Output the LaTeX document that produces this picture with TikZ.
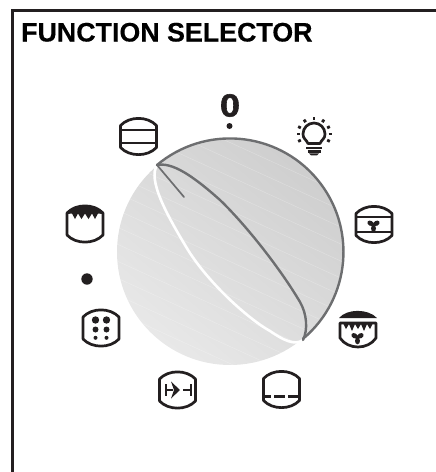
\documentclass[tikz,border=0pt]{standalone}
\usepackage{fontspec}
\setmainfont{Liberation Sans}
\newfontfamily\heavyfont[FakeBold=1.6]{Liberation Sans Bold}
\newfontfamily\titlefont[FakeBold=0.25]{Liberation Sans Bold}
\definecolor{ink}{HTML}{231F20}
\definecolor{rimgray}{HTML}{6D6E70}
\tikzset{
  x=1pt,y=-1pt,
  ink line/.style={draw=ink,line width=2.7pt,line join=round},
  rim/.style={draw=rimgray,line width=2.4pt,line cap=round},
  streak/.style={draw=white,line width=.5pt,opacity=.25},
  oven/.pic={\draw[ink line] (-18,-11) .. controls (-9,-20.5) and (9,-20.5) .. (18,-11) -- (18,11) .. controls (9,20.5) and (-9,20.5) .. (-18,11) -- cycle;},
  fan/.pic={\foreach \a in {-90,30,150}{\fill[ink,rotate=\a] (3.4,0) ellipse[x radius=3.4,y radius=2.5];}\fill[ink] (0,0) circle[radius=1.8];},
}
\begin{document}
\begin{tikzpicture}
\useasboundingbox (0,0) rectangle (436,472);
% frame
\draw[ink,line width=3pt] (12,472) -- (12,10) -- (436,10);
\node[anchor=base west,inner sep=0pt,font=\titlefont\fontsize{26.8}{30}\selectfont,text=black] (title) at (21,41.5) {FUNCTION SELECTOR};
% dial
\shade[top color=black!19,bottom color=black!9,shading angle=-40] (230,252) circle[radius=113];
\begin{scope}
\clip (230,252) circle[radius=113];
\foreach \k in {-12,...,16}{\draw[streak] (60,{150+\k*17}) -- (400,{150+\k*17+155});}
\end{scope}
\draw[white,line width=2.6pt,line cap=round] (157,165) .. controls (148,180) and (165,212) .. (188,250) .. controls (210,285) and (250,320) .. (270,331) .. controls (283,340) and (295,346) .. (303,340);
\draw[rim] (157,165) arc[start angle=-130,end angle=50,radius=113.5];
\draw[rim] (157,165) .. controls (172,162) and (192,175) .. (220,200) .. controls (245,224) and (280,268) .. (300,302) .. controls (307,314) and (308,330) .. (303,340);
\draw[rim,line width=1.7pt] (157,165) -- (184,197);
% icon: two lines
\pic at (138.5,136.5) {oven};
\draw[ink line] (120.5,130) -- (156.5,130) (120.5,143) -- (156.5,143);
% zero
\node[inner sep=0pt,xscale=1.12,font=\heavyfont\fontsize{32}{34}\selectfont,text=ink] (zero) at (230,105.5) {0};
\fill[ink] (229.5,126) circle[radius=3];
% bulb
\draw[ink line] (308,143.5) .. controls (306,139) and (303,139) .. (303,134) arc[start angle=180,end angle=360,radius=11] .. controls (325,139) and (322,139) .. (320,143.5) -- cycle;
\draw[ink,line width=2.2pt] (306,148) -- (322,148) (307.5,151.5) -- (320.5,151.5);
\fill[ink] (309,153.3) -- (319,153.3) -- (317,155.3) -- (311,155.3) -- cycle;
\foreach \a in {-90,-55,-25,0,25,180,155,205,235}{\draw[ink,line width=2.8pt] (314,134) ++(\a:14.5) -- ++(\a:3);}
% fan oven
\pic at (374,224.5) {oven};
\draw[ink line] (356,217) -- (392,217) (356,232) -- (392,232);
\pic at (373.5,225) {fan};
% top + fan
\fill[ink] (339,318) .. controls (347,308.5) and (368,308.5) .. (377,318) -- cycle;
\draw[ink line] (340,323) -- (376,323) -- (376,338) .. controls (368,350) and (348,350) .. (340,338) -- cycle;
\fill[ink] (343,323) -- (346,329) -- (349,324) -- (352,331) -- (355,324) -- (358,329) -- (361,324) -- (364,331) -- (367,324) -- (370,329) -- (373,323) -- cycle;
\pic at (357.5,337.5) {fan};
% dashed
\pic at (281.5,389.5) {oven};
\draw[ink,line width=3pt] (264,396) -- (271,396) (274,396) -- (285,396) (288,396) -- (299,396);
% grill
\pic at (177.5,390) {oven};
\draw[ink,line width=2.4pt] (166,384) -- (166,396) (166,390) -- (173,390) (183,390) -- (191,390) (191,384) -- (191,396);
\fill[ink] (171,381.5) -- (180,390) -- (171,398.5) -- (174,390) -- cycle;
% dots
\pic at (101,328) {oven};
\foreach \x in {95.5,106.5}{
  \fill[ink] (\x,320) circle[radius=3.7];
  \fill[ink] (\x,329.5) circle[radius=3];
  \fill[ink] (\x,337.8) circle[radius=2];
}
% single dot
\fill[ink] (87,279) circle[radius=5.7];
% top heat
\pic at (85,224) {oven};
\fill[ink] (67,214) .. controls (76,203) and (94,203) .. (103,214) -- (98,213.5) -- (95,219) -- (92,213.5) -- (88.5,219) -- (85,213.5) -- (81.5,219) -- (78,213.5) -- (75,219) -- (72,213.5) -- cycle;
\end{tikzpicture}
\end{document}
